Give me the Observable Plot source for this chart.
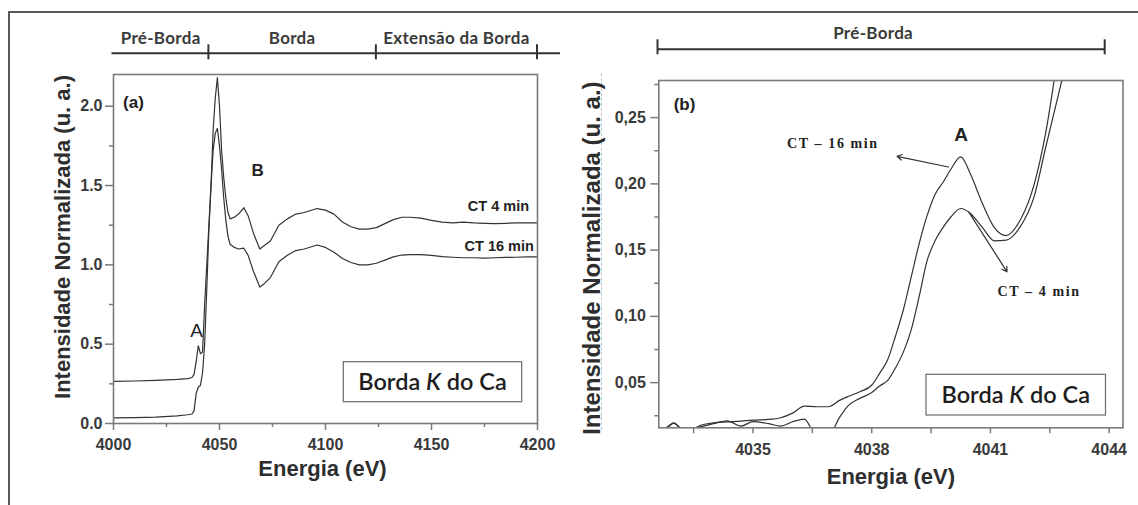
<!DOCTYPE html>
<html>
<head>
<meta charset="utf-8">
<script src="https://cdn.jsdelivr.net/npm/d3@7"></script>
<script src="https://cdn.jsdelivr.net/npm/@observablehq/plot@0.6"></script>
<style>
  body { margin: 0; background: #fff; }
  #fig { position: relative; width: 1138px; height: 505px; overflow: hidden; background: #fff; }
  #fig .panel { position: absolute; top: 0; }
  #fig .outline { position: absolute; left: 8px; top: 11px; width: 1140px; height: 500px;
                  border-top: 2px solid #5a5a5a; border-left: 2px solid #5a5a5a; }
  #fig .guide { position: absolute; left: 601px; top: 73px; height: 357px;
                border-left: 1px dashed #c2c2c2; }
  #fig g[aria-label="x-axis tick label"], #fig g[aria-label="y-axis tick label"] { font-weight: bold; }
</style>
</head>
<body>
<div id="fig">
  <div class="outline"></div>
  <div class="guide"></div>
</div>
<script>
// ---- Panel (a): full Ca K-edge XANES spectra ----
const energyA = [4000, 4010, 4020, 4030, 4035, 4037, 4038, 4039, 4040, 4041,
  4042, 4043, 4044, 4045, 4046, 4047, 4048, 4049, 4050, 4051,
  4052, 4053, 4054, 4055, 4057, 4059, 4061.5, 4063.5, 4066, 4069,
  4071, 4074, 4078, 4082, 4086, 4090, 4096, 4100, 4104, 4108,
  4112, 4116, 4120, 4124, 4128, 4132, 4136, 4140, 4145, 4150,
  4155, 4160, 4165, 4170, 4175, 4180, 4185, 4190, 4195, 4200];
const ct4A = [0.265, 0.268, 0.272, 0.278, 0.283, 0.290, 0.310, 0.390, 0.490, 0.440,
  0.450, 0.750, 1.000, 1.250, 1.500, 1.850, 2.050, 2.180, 2.000, 1.720,
  1.550, 1.420, 1.330, 1.290, 1.300, 1.320, 1.360, 1.310, 1.200, 1.100,
  1.120, 1.150, 1.250, 1.290, 1.320, 1.330, 1.355, 1.345, 1.320, 1.270,
  1.240, 1.225, 1.225, 1.235, 1.260, 1.285, 1.300, 1.300, 1.295, 1.280,
  1.270, 1.265, 1.270, 1.265, 1.262, 1.260, 1.262, 1.265, 1.265, 1.265];
const ct16A = [0.035, 0.037, 0.040, 0.048, 0.055, 0.060, 0.080, 0.190, 0.230, 0.240,
  0.320, 0.500, 0.850, 1.220, 1.500, 1.720, 1.830, 1.860, 1.750, 1.600,
  1.420, 1.280, 1.180, 1.130, 1.110, 1.100, 1.105, 1.060, 0.960, 0.860,
  0.880, 0.920, 1.020, 1.060, 1.090, 1.100, 1.125, 1.110, 1.080, 1.040,
  1.015, 1.000, 1.000, 1.010, 1.030, 1.050, 1.062, 1.065, 1.065, 1.060,
  1.052, 1.048, 1.045, 1.045, 1.043, 1.045, 1.047, 1.048, 1.050, 1.050];
const xTicksA = [4000, 4050, 4100, 4150, 4200];
const xMinorA = [4025, 4075, 4125, 4175];
const yTicksA = [0, 0.5, 1.0, 1.5, 2.0];
const yMinorA = [0.25, 0.75, 1.25, 1.75];
const stagesA = ["Pré-Borda", "Borda", "Extensão da Borda"];
const stageBoundsA = [4000, 4045, 4124, 4200];
const peakLabelsA = [
  {text: "A", energy: 4039.2, value: 0.586},
  {text: "B", energy: 4068, value: 1.595}
];
const seriesLabelsA = [
  {text: "CT 4 min", energy: 4196, value: 1.368},
  {text: "CT 16 min", energy: 4198.3, value: 1.116}
];

// ---- Panel (b): pre-edge region, peak A ----
const energyB = [4032.5, 4032.8, 4033.0, 4033.2, 4033.5, 4033.7, 4034.0, 4034.35, 4034.7, 4035.0,
  4035.4, 4035.7, 4036.0, 4036.3, 4036.6, 4036.9, 4037.2, 4037.4, 4037.7, 4038.0,
  4038.2, 4038.4, 4038.6, 4038.8, 4039.0, 4039.2, 4039.4, 4039.6, 4039.8, 4040.0,
  4040.25, 4040.5, 4040.8, 4041.1, 4041.4, 4041.75, 4042.1, 4042.4, 4042.7, 4042.9];
const ct16B = [0.013, 0.015, 0.0195, 0.015, 0.0155, 0.018, 0.0196, 0.0203, 0.021, 0.0217,
  0.0222, 0.0235, 0.027, 0.0323, 0.0318, 0.0318, 0.0368, 0.0395, 0.0431, 0.048,
  0.057, 0.067, 0.085, 0.105, 0.130, 0.155, 0.176, 0.192, 0.201, 0.211,
  0.2203, 0.207, 0.185, 0.167, 0.161, 0.1725, 0.199, 0.239, 0.295, 0.330];
const ct4B = [0.012, 0.016, 0.0196, 0.0155, 0.0158, 0.0168, 0.019, 0.0212, 0.0172, 0.0205,
  0.019, 0.0172, 0.0205, 0.0225, 0.010, 0.010, 0.0243, 0.0325, 0.0381, 0.0425,
  0.0475, 0.0515, 0.061, 0.073, 0.090, 0.115, 0.142, 0.157, 0.167, 0.175,
  0.1814, 0.1775, 0.167, 0.157, 0.1575, 0.1675, 0.190, 0.228, 0.265, 0.290];
const xTicksB = [4035, 4038, 4041, 4044];
const xMinorB = [4033.5, 4036.5, 4039.5, 4042.5];
const yTicksB = [0.05, 0.10, 0.15, 0.20, 0.25];
const yMinorB = [0.025, 0.075, 0.125, 0.175, 0.225, 0.275];
const stagesB = ["Pré-Borda"];
const stageBoundsB = [4032.6, 4043.9];
const peakLabelsB = [
  {text: "A", energy: 4040.26, value: 0.2367}
];
const seriesLabelsB = [
  {text: "CT – 16 min", energy: 4037.02, value: 0.2308},
  {text: "CT – 4 min", energy: 4042.23, value: 0.1185}
];
const pointersB = [
  {x1: 4039.94, y1: 0.2127, x2: 4038.64, y2: 0.2208},
  {x1: 4040.45, y1: 0.1788, x2: 4041.42, y2: 0.1336}
];

// ---- shared styling ----
const sans = "'Liberation Sans', Arial, Helvetica, sans-serif";
const serif = "'Liberation Serif', 'Times New Roman', serif";
const humanist = "Lato, 'Open Sans', sans-serif";
const axisGrey = "#7a7a7a";
const tickInk = "#3a3a3a";
const ink = "#222";
const curveInk = "#333";

function axes(xMajor, xMinor, yMajor, yMinor, fmtX, fmtY, opt) {
  const common = {stroke: axisGrey, strokeWidth: 1.5, label: null};
  const text = {fill: tickInk, fontSize: opt.tickFont, fontWeight: "bold", fontFamily: sans};
  return [
    Plot.axisX({...common, ticks: xMinor, tickSize: opt.xMinorSize, tickFormat: () => ""}),
    Plot.axisX({...common, ...text, ticks: xMajor, tickSize: opt.xMajorSize, tickPadding: opt.xPad, tickFormat: fmtX}),
    Plot.axisY({...common, ticks: yMinor, tickSize: 4, tickFormat: () => ""}),
    Plot.axisY({...common, ...text, ticks: yMajor, tickSize: opt.yMajorSize, tickPadding: opt.yPad, tickFormat: fmtY})
  ];
}

function titles(xTitle, yTitle, o) {
  const base = {text: d => d, fontWeight: "bold", fontFamily: sans, fill: "#2e2e2e",
    textAnchor: "middle", lineAnchor: "middle"};
  return [
    Plot.text([xTitle], {...base, frameAnchor: "bottom", dy: o.xDy, dx: o.xDx || 0, fontSize: 22}),
    Plot.text([yTitle], {...base, frameAnchor: "left", dx: o.yDx, dy: o.yDy, rotate: -90, fontSize: o.ySize})
  ];
}

function panelTag(tag, dx, dy) {
  return Plot.text([tag], {text: d => d, frameAnchor: "top-left", dx, dy,
    textAnchor: "middle", lineAnchor: "middle",
    fontSize: 17, fontWeight: "bold", fontFamily: sans, fill: ink});
}

// Stage bar above a panel, drawn on the panel's own x scale
function stageBar(svg, names, bounds, o) {
  const x = svg.scale("x");
  const g = d3.select(svg).append("g").attr("stroke", "#333").attr("stroke-width", 2);
  const x0 = x.apply(bounds[0]) + o.extendLeft;
  const x1 = x.apply(bounds[bounds.length - 1]) + o.extendRight;
  g.append("line").attr("x1", x0).attr("x2", x1).attr("y1", o.y).attr("y2", o.y);
  bounds.forEach((b, i) => {
    if (i === 0 && !o.capFirst) return;
    const px = x.apply(b);
    g.append("line").attr("x1", px).attr("x2", px).attr("y1", o.y - o.capUp).attr("y2", o.y + o.capDown);
  });
  names.forEach((n, i) => {
    d3.select(svg).append("text")
      .attr("x", (x.apply(bounds[i]) + x.apply(bounds[i + 1])) / 2 + (o.labelDx || 0))
      .attr("y", o.labelY).attr("dy", "0.35em")
      .attr("text-anchor", "middle")
      .attr("font-family", humanist).attr("font-weight", "bold").attr("font-size", o.labelSize)
      .attr("letter-spacing", 0.3)
      .attr("fill", "#3a3a3a").text(n);
  });
}

// Framed "Borda K do Ca" label in the lower-right corner of a panel
function edgeLabel(svg, o) {
  const g = d3.select(svg).append("g");
  g.append("rect").attr("x", o.right - o.w).attr("y", o.bottom - o.h)
    .attr("width", o.w).attr("height", o.h)
    .attr("fill", "#fff").attr("stroke", "#6a6a6a").attr("stroke-width", 1.2);
  const t = g.append("text").attr("x", o.right - o.w / 2).attr("y", o.bottom - o.h / 2).attr("dy", "0.36em")
    .attr("text-anchor", "middle").attr("font-family", humanist).attr("font-weight", 600)
    .attr("font-size", 23.5).attr("fill", "#1e1e1e");
  t.append("tspan").text("Borda ");
  t.append("tspan").attr("font-style", "italic").text("K");
  t.append("tspan").text(" do Ca");
}

const fig = document.getElementById("fig");

// ---------- panel (a) ----------
const rowsA = energyA.map((e, i) => ({energy: e, ct4: ct4A[i], ct16: ct16A[i]}));
const mA = {left: 113, right: 33, top: 74, bottom: 82, width: 570, height: 505};
const plotA = Plot.plot({
  width: mA.width, height: mA.height,
  marginLeft: mA.left, marginRight: mA.right, marginTop: mA.top, marginBottom: mA.bottom,
  style: {fontFamily: sans, background: "transparent"},
  x: {domain: [4000, 4200]},
  y: {domain: [0, 2.2]},
  marks: [
    ...axes(xTicksA, xMinorA, yTicksA, yMinorA, d => String(d), d => d.toFixed(1),
      {tickFont: 16, xMinorSize: 4, xMajorSize: 7, xPad: 8, yMajorSize: 8, yPad: 3}),
    Plot.line(rowsA, {x: "energy", y: "ct4", stroke: curveInk, strokeWidth: 1.2, clip: true}),
    Plot.line(rowsA, {x: "energy", y: "ct16", stroke: curveInk, strokeWidth: 1.2, clip: true}),
    Plot.frame({stroke: axisGrey, strokeWidth: 1.6}),
    Plot.text(peakLabelsA.slice(0, 1), {x: "energy", y: "value", text: "text", fontSize: 19,
      fontFamily: sans, fill: ink}),
    Plot.text(peakLabelsA.slice(1), {x: "energy", y: "value", text: "text", fontSize: 17,
      fontWeight: "bold", fontFamily: sans, fill: ink}),
    Plot.text(seriesLabelsA, {x: "energy", y: "value", text: "text", fontSize: 14.5, fontWeight: "bold",
      textAnchor: "end", fontFamily: sans, fill: ink}),
    panelTag("(a)", 20, 28.5),
    ...titles("Energia (eV)", "Intensidade Normalizada (u. a.)", {xDy: 45, xDx: -3, yDx: -50.5, yDy: -12, ySize: 22})
  ]
});
plotA.classList.add("panel");
plotA.style.left = "0px";
fig.appendChild(plotA);

// ---------- panel (b) ----------
const rowsB = energyB.map((e, i) => ({energy: e, ct4: ct4B[i], ct16: ct16B[i]}));
const mB = {left: 88.3, right: 15.5, top: 80, bottom: 77.7, width: 568, height: 505};
const plotB = Plot.plot({
  width: mB.width, height: mB.height,
  marginLeft: mB.left, marginRight: mB.right, marginTop: mB.top, marginBottom: mB.bottom,
  style: {fontFamily: sans, background: "transparent"},
  x: {domain: [4032.62, 4044.35]},
  y: {domain: [0.0159, 0.278]},
  marks: [
    ...axes(xTicksB, xMinorB, yTicksB, yMinorB, d => String(d), d => d.toFixed(2).replace(".", ","),
      {tickFont: 16, xMinorSize: 6, xMajorSize: 6, xPad: 10, yMajorSize: 8, yPad: 5}),
    Plot.line(rowsB, {x: "energy", y: "ct16", curve: "monotone-x", stroke: curveInk, strokeWidth: 1.2, clip: true}),
    Plot.line(rowsB, {x: "energy", y: "ct4", curve: "monotone-x", stroke: curveInk, strokeWidth: 1.2, clip: true}),
    Plot.frame({stroke: axisGrey, strokeWidth: 1.6}),
    Plot.arrow(pointersB, {x1: "x1", y1: "y1", x2: "x2", y2: "y2", bend: 0,
      stroke: curveInk, strokeWidth: 1.2, headLength: 7}),
    Plot.text(seriesLabelsB, {x: "energy", y: "value", text: "text", fontFamily: serif,
      fontWeight: "bold", fontSize: 14, fill: ink}),
    Plot.text(peakLabelsB, {x: "energy", y: "value", text: "text", fontSize: 19, fontWeight: "bold",
      fontFamily: sans, fill: ink}),
    panelTag("(b)", 25.7, 24),
    ...titles("Energia (eV)", "Intensidade Normalizada (u. a.)", {xDy: 49, yDx: -66, yDy: 4, ySize: 24})
  ]
});
plotB.classList.add("panel");
plotB.style.left = "570px";
fig.appendChild(plotB);

// widen the serif series labels a little
d3.select(plotB).selectAll("text").filter(function () { return /^CT –/.test(this.textContent); })
  .attr("letter-spacing", 1.6);

// ---------- stage bars and edge labels ----------
stageBar(plotA, stagesA, stageBoundsA,
  {y: 53.3, capUp: 9, capDown: 6, extendLeft: -1.5, extendRight: 23, labelY: 38, labelSize: 17, capFirst: false});
stageBar(plotB, stagesB, stageBoundsB,
  {y: 49.3, capUp: 10, capDown: 5, extendLeft: 0, extendRight: 0, labelY: 33, labelSize: 17, capFirst: true, labelDx: -8});
edgeLabel(plotA, {right: mA.width - mA.right - 15.3, bottom: mA.height - mA.bottom - 21.3, w: 178.4, h: 40});
edgeLabel(plotB, {right: mB.width - mB.right - 17, bottom: mB.height - mB.bottom - 12.3, w: 179.5, h: 40.7});
</script>
</body>
</html>
